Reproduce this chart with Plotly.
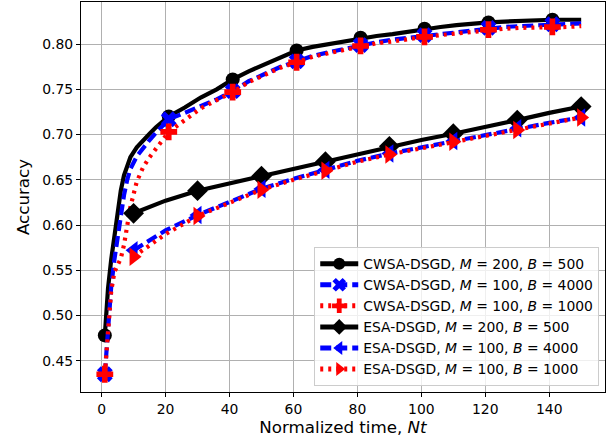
import plotly.graph_objects as go

# CWSA-DSGD curves (dense sampling, markers every 20 units starting at 1)
cwsa_t = [1, 2, 3, 4, 5, 6, 7, 8, 9, 11, 13, 15, 17, 19, 21, 26, 31, 36, 41, 46, 51, 56, 61,
          66, 71, 76, 81, 86, 91, 96, 101, 106, 111, 116, 121, 126, 131, 136, 141, 146, 150]
cwsa_m200_b500 = [0.478, 0.530, 0.562, 0.590, 0.615, 0.638, 0.655, 0.667, 0.675, 0.686, 0.694,
                  0.701, 0.708, 0.714, 0.720, 0.730, 0.741, 0.750, 0.761, 0.770, 0.778, 0.786,
                  0.793, 0.797, 0.800, 0.804, 0.807, 0.809, 0.811, 0.814, 0.817, 0.819, 0.821,
                  0.823, 0.824, 0.825, 0.826, 0.826, 0.827, 0.827, 0.827]
cwsa_m100_b4000 = [0.435, 0.490, 0.532, 0.562, 0.588, 0.612, 0.633, 0.650, 0.662, 0.676, 0.686,
                   0.694, 0.702, 0.710, 0.717, 0.724, 0.731, 0.739, 0.748, 0.759, 0.767, 0.775,
                   0.781, 0.787, 0.791, 0.795, 0.799, 0.802, 0.805, 0.807, 0.810, 0.812, 0.814,
                   0.816, 0.818, 0.819, 0.820, 0.821, 0.822, 0.822, 0.823]
cwsa_m100_b1000 = [0.435, 0.490, 0.527, 0.548, 0.556, 0.563, 0.578, 0.598, 0.620, 0.648, 0.664,
                   0.675, 0.684, 0.693, 0.703, 0.716, 0.729, 0.738, 0.747, 0.758, 0.766, 0.774,
                   0.780, 0.786, 0.790, 0.794, 0.798, 0.801, 0.803, 0.806, 0.808, 0.810, 0.812,
                   0.814, 0.816, 0.817, 0.818, 0.818, 0.819, 0.819, 0.820]
cwsa_marker_t = [1, 21, 41, 61, 81, 101, 121, 141]

# ESA-DSGD curves
esa_t = [10, 20, 30, 40, 50, 60, 70, 80, 90, 100, 110, 120, 130, 140, 150]
esa_m200_b500 = [0.613, 0.627, 0.638, 0.646, 0.654, 0.663, 0.670, 0.679, 0.687, 0.694, 0.701,
                 0.708, 0.716, 0.724, 0.731]
esa_m100_b4000 = [0.572, 0.594, 0.611, 0.626, 0.640, 0.651, 0.661, 0.671, 0.679, 0.686, 0.693,
                  0.700, 0.707, 0.713, 0.719]
esa_m100_b1000 = [0.565, 0.590, 0.610, 0.625, 0.639, 0.650, 0.660, 0.670, 0.678, 0.685, 0.692,
                  0.699, 0.705, 0.712, 0.719]
esa_marker_t = [10, 30, 50, 70, 90, 110, 130, 150]

x_ticks = [0, 20, 40, 60, 80, 100, 120, 140]
y_ticks = [0.45, 0.50, 0.55, 0.60, 0.65, 0.70, 0.75, 0.80]

FONT = "DejaVu Sans"

series = [
    ("CWSA-DSGD, <i>M</i> = 200, <i>B</i> = 500", cwsa_t, cwsa_m200_b500, cwsa_marker_t,
     "black", "solid", "circle", 14),
    ("CWSA-DSGD, <i>M</i> = 100, <i>B</i> = 4000", cwsa_t, cwsa_m100_b4000, cwsa_marker_t,
     "blue", "11px,5px", "x", 14),
    ("CWSA-DSGD, <i>M</i> = 100, <i>B</i> = 1000", cwsa_t, cwsa_m100_b1000, cwsa_marker_t,
     "red", "3px,5px", "cross", 14),
    ("ESA-DSGD, <i>M</i> = 200, <i>B</i> = 500", esa_t, esa_m200_b500, esa_marker_t,
     "black", "solid", "diamond", 16),
    ("ESA-DSGD, <i>M</i> = 100, <i>B</i> = 4000", esa_t, esa_m100_b4000, esa_marker_t,
     "blue", "11px,5px", "triangle-left", 16),
    ("ESA-DSGD, <i>M</i> = 100, <i>B</i> = 1000", esa_t, esa_m100_b1000, esa_marker_t,
     "red", "3px,5px", "triangle-right", 16),
]

fig = go.Figure()
for name, xs, ys, mk, color, dash, symbol, msize in series:
    sizes = [msize if x in mk else 0 for x in xs]
    fig.add_trace(go.Scatter(
        x=xs, y=ys, name=name, mode="lines+markers",
        line=dict(color=color, width=4.2, dash=dash),
        marker=dict(symbol=symbol, size=sizes, color=color, opacity=1,
                    line=dict(width=0, color=color)),
    ))

axis_common = dict(
    showline=True, mirror=True, linecolor="black", linewidth=1,
    ticks="outside", ticklen=4, tickwidth=1, tickcolor="black",
    showgrid=True, gridcolor="#b0b0b0", gridwidth=0.8, zeroline=False,
    tickfont=dict(family=FONT, size=13.9, color="black"), automargin=False,
)

fig.update_layout(
    width=616, height=445,
    margin=dict(l=81, r=11, t=2, b=53),
    plot_bgcolor="white", paper_bgcolor="white",
    font=dict(family=FONT, color="black"),
    xaxis=dict(range=[-6.45, 157.45], tickvals=x_ticks,
               title=dict(text="Normalized time, <i>Nt</i>", font=dict(family=FONT, size=16.7),
                          standoff=5),
               **axis_common),
    yaxis=dict(range=[0.4154, 0.8466], tickvals=y_ticks, tickformat=".2f",
               title=dict(text="Accuracy", font=dict(family=FONT, size=16.7), standoff=8),
               **axis_common),
    legend=dict(x=0.989, y=0.015, xanchor="right", yanchor="bottom",
                bgcolor="rgba(255,255,255,0.8)", bordercolor="#cccccc", borderwidth=1,
                font=dict(family=FONT, size=13.9, color="black"), itemsizing="constant",
                itemwidth=38),
    showlegend=True,
)

fig.write_html(
    "out.html",
    config={"displayModeBar": False},
    post_script="document.body.style.margin='0';document.body.style.overflow='hidden';",
)
